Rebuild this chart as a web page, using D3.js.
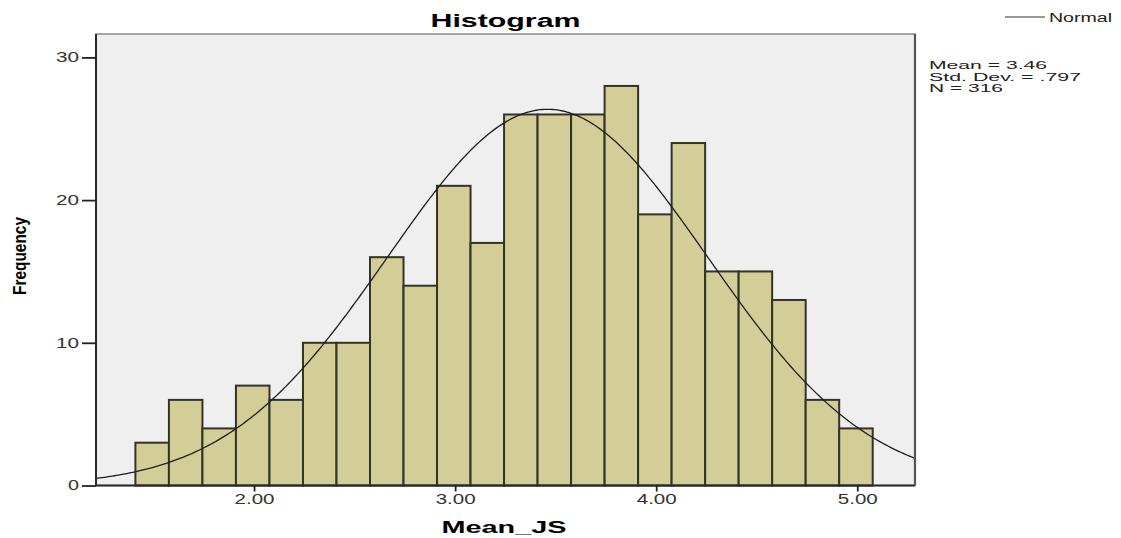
<!DOCTYPE html>
<html>
<head>
<meta charset="utf-8">
<script src="https://cdn.jsdelivr.net/npm/d3@7"></script>
<style>
  body { margin: 0; background: #fff; }
  text { font-family: "Liberation Sans", Arial, sans-serif; }
</style>
</head>
<body>
<div id="histogram"></div>
<script>
// bin counts (left to right)
var counts = [3, 6, 4, 7, 6, 10, 10, 16, 14, 21, 17, 26, 26, 26, 28, 19, 24, 15, 15, 13, 6, 4];
var binStart = 1.41;
var binWidth = 1 / 6;
var xTicks = [2, 3, 4, 5];
var xTickLabels = ["2.00", "3.00", "4.00", "5.00"];
var yTicks = [0, 10, 20, 30];
var yTickLabels = ["0", "10", "20", "30"];
var statLines = ["Mean = 3.46", "Std. Dev. = .797", "N = 316"];
var mean = 3.46, sd = 0.797, n = 316;

function histogram() {
    var width = 1121, height = 538;
    var plot = {left: 96, right: 915, top: 34, bottom: 485.5};

    const svg = d3.select("#histogram")
        .append("svg")
        .attr("width", width)
        .attr("height", height);

    var xScale = d3.scaleLinear()
        .domain([1.214, 5.287])
        .range([plot.left, plot.right]);
    var yScale = d3.scaleLinear()
        .domain([0, 31.64])
        .range([plot.bottom, plot.top]);

    // plot background
    svg.append("rect")
        .attr("x", plot.left).attr("y", plot.top)
        .attr("width", plot.right - plot.left)
        .attr("height", plot.bottom - plot.top)
        .attr("fill", "#efefef")
        .attr("stroke", "#8c8c8c")
        .attr("stroke-width", 1.5);

    // bars
    var bars = counts.map(function(c, i) {
        return {x0: binStart + i * binWidth, x1: binStart + (i + 1) * binWidth, value: c};
    });
    svg.selectAll("rect.bar")
        .data(bars)
        .enter()
        .append("rect")
        .attr("class", "bar")
        .attr("x", d => xScale(d.x0))
        .attr("y", d => yScale(d.value))
        .attr("width", d => xScale(d.x1) - xScale(d.x0))
        .attr("height", d => yScale(0) - yScale(d.value))
        .attr("fill", "#d3ce98")
        .attr("stroke", "#343326")
        .attr("stroke-width", 2);

    // normal curve from the stated mean / sd / N
    var xs = d3.range(0, 401).map(i => 1.214 + i * (5.287 - 1.214) / 400);
    var curve = xs.map(function(x) {
        var z = (x - mean) / sd;
        return {x: x, y: n * binWidth * Math.exp(-0.5 * z * z) / (sd * Math.sqrt(2 * Math.PI))};
    });
    svg.append("path")
        .datum(curve)
        .attr("fill", "none")
        .attr("stroke", "#1e1e1e")
        .attr("stroke-width", 1.3)
        .attr("d", d3.line().x(d => xScale(d.x)).y(d => yScale(d.y)));

    // frame lines
    svg.append("line")
        .attr("x1", plot.left).attr("x2", plot.left)
        .attr("y1", plot.top).attr("y2", plot.bottom)
        .attr("stroke", "#2a2a2a").attr("stroke-width", 2);
    svg.append("line")
        .attr("x1", plot.left).attr("x2", plot.right)
        .attr("y1", plot.bottom).attr("y2", plot.bottom)
        .attr("stroke", "#2a2a2a").attr("stroke-width", 2);
    svg.append("line")
        .attr("x1", plot.right).attr("x2", plot.right)
        .attr("y1", plot.top).attr("y2", plot.bottom)
        .attr("stroke", "#555").attr("stroke-width", 2.2);

    // axes
    var yAxis = d3.axisLeft(yScale).tickValues(yTicks)
        .tickFormat((d, i) => yTickLabels[i]).tickSize(14).tickPadding(3);
    var yg = svg.append("g")
        .attr("transform", `translate(${plot.left}, 0)`)
        .call(yAxis);
    yg.select(".domain").remove();
    yg.selectAll(".tick line").attr("stroke", "#222").attr("stroke-width", 1.8);
    yg.selectAll(".tick text")
        .attr("fill", "#333")
        .style("font-size", "14px")
        .attr("textLength", d => d === 0 ? 11 : 23)
        .attr("lengthAdjust", "spacingAndGlyphs");

    var xAxis = d3.axisBottom(xScale).tickValues(xTicks)
        .tickFormat((d, i) => xTickLabels[i]).tickSize(6).tickPadding(3);
    var xg = svg.append("g")
        .attr("transform", `translate(0, ${plot.bottom})`)
        .call(xAxis);
    xg.select(".domain").remove();
    xg.selectAll(".tick line").attr("stroke", "#222").attr("stroke-width", 1.8);
    xg.selectAll(".tick text")
        .attr("fill", "#333")
        .style("font-size", "14px")
        .attr("textLength", 40)
        .attr("lengthAdjust", "spacingAndGlyphs");

    // titles
    svg.append("text")
        .attr("x", 505.5).attr("y", 27)
        .attr("text-anchor", "middle")
        .style("font-size", "18px").style("font-weight", "bold")
        .attr("textLength", 150).attr("lengthAdjust", "spacingAndGlyphs")
        .text("Histogram");

    svg.append("text")
        .attr("x", 504).attr("y", 533)
        .attr("text-anchor", "middle")
        .style("font-size", "17px").style("font-weight", "bold")
        .attr("textLength", 125).attr("lengthAdjust", "spacingAndGlyphs")
        .text("Mean_JS");

    svg.append("text")
        .attr("transform", "translate(26, 256) rotate(-90)")
        .attr("text-anchor", "middle")
        .style("font-family", "'Liberation Sans Narrow', 'Liberation Sans', sans-serif")
        .style("font-size", "19px").style("font-weight", "bold")
        .attr("textLength", 78).attr("lengthAdjust", "spacingAndGlyphs")
        .text("Frequency");

    // stats block
    var statWidths = [118, 152, 74];
    svg.selectAll("text.stat")
        .data(statLines)
        .enter()
        .append("text")
        .attr("class", "stat")
        .attr("x", 929)
        .attr("y", (d, i) => 69 + i * 11.5)
        .style("font-size", "10.5px")
        .attr("fill", "#222")
        .attr("textLength", (d, i) => statWidths[i])
        .attr("lengthAdjust", "spacingAndGlyphs")
        .text(d => d);

    // legend
    svg.append("line")
        .attr("x1", 1005).attr("x2", 1045)
        .attr("y1", 17).attr("y2", 17)
        .attr("stroke", "#333").attr("stroke-width", 1.2);
    svg.append("text")
        .attr("x", 1049).attr("y", 22)
        .style("font-size", "12.5px")
        .attr("fill", "#222")
        .attr("textLength", 63).attr("lengthAdjust", "spacingAndGlyphs")
        .text("Normal");
}

histogram();
</script>
</body>
</html>
